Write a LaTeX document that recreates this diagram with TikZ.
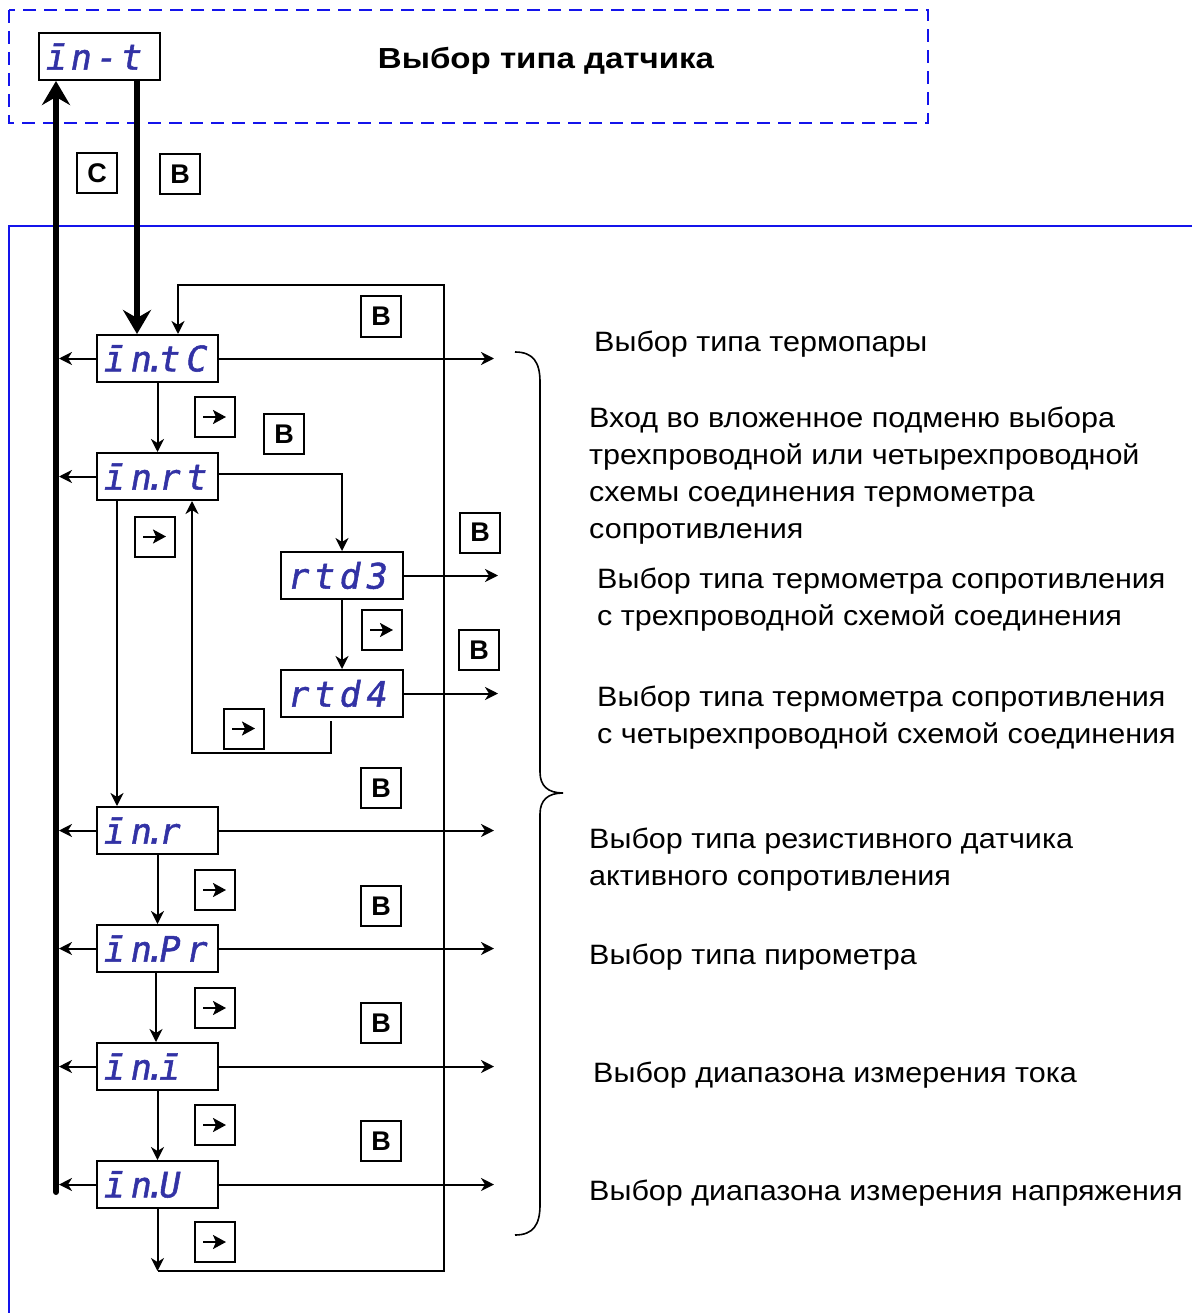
\documentclass[tikz,border=0pt]{standalone}
\usepackage{fontspec}
\setmainfont{Liberation Sans}
\newfontfamily\descfont{Liberation Sans}[FakeStretch=1.09]
\newfontfamily\titlefont{Liberation Sans}[FakeStretch=1.14]
\newfontfamily\segfont{DejaVu Sans Mono}[FakeSlant=0.18,FakeBold=1.5]
\newcommand\sgap{\kern6pt}
\newcommand\sdot{\kern-7pt.\kern-7pt}
\usetikzlibrary{arrows.meta,calc}
\definecolor{segblue}{RGB}{50,50,165}
\definecolor{frameblue}{RGB}{20,20,235}
\tikzset{
  conn/.style={line width=2pt,-{Stealth[length=13pt,width=13pt,inset=4pt]}},
  plain/.style={line width=2pt},
  thickarr/.style={line width=6pt,-{Stealth[length=24pt,width=28pt,inset=8pt]}},
  disp/.style={draw,line width=2pt,minimum height=47pt,text width=111pt,inner xsep=5pt,inner ysep=0pt,align=left,
    font=\segfont\fontsize{35}{35}\selectfont,text=segblue},
  btn/.style={draw,line width=2pt,minimum size=40pt,inner sep=0pt,font=\bfseries\fontsize{27}{27}\selectfont},
  arrbtn/.style={draw,line width=2pt,minimum size=40pt,inner sep=0pt,
    path picture={\draw[line width=2pt,-{Stealth[length=13pt,width=14pt,inset=3pt]}]
      ($(path picture bounding box.center)+(-12,0)$) -- ($(path picture bounding box.center)+(11,0)$);}},
  desc/.style={anchor=west,align=left,inner sep=0pt,font=\descfont\fontsize{28}{37}\selectfont}
}
\begin{document}
\begin{tikzpicture}[x=1pt,y=-1pt]
\useasboundingbox (0,0) rectangle (1192,1313);
% frames
\draw[frameblue,line width=2pt,dash pattern=on 13pt off 8pt] (9,10) rectangle (928,123);
\draw[frameblue,line width=1.5pt] (1192,226) -- (9,226) -- (9,1313);
% title
\node (title) at (546,61) {\titlefont\bfseries\fontsize{29}{29}\selectfont Выбор типа датчика};
% displays
\node[disp] (tp) at (99.5,56.5) {ī\kern4pt n\kern4pt -\kern4pt t};
\node[disp] (intc) at (157.5,358.5) {ī\sgap n\sdot t\sgap C};
\node[disp] (inrt) at (157.5,476.5) {ī\sgap n\sdot r\sgap t};
\node[disp,text width=112pt] (rtd3) at (342,575.5) {r\kern5pt t\kern5pt d\kern5pt 3};
\node[disp,text width=112pt] (rtd4) at (342,693.5) {r\kern5pt t\kern5pt d\kern5pt 4};
\node[disp] (inr) at (157.5,830.5) {ī\sgap n\sdot r};
\node[disp] (inpr) at (157.5,948.5) {ī\sgap n\sdot P\sgap r};
\node[disp] (ini) at (157.5,1066.5) {ī\sgap n\sdot ī};
\node[disp] (inu) at (157.5,1184.5) {ī\sgap n\sdot U};
% key coordinates
\coordinate (cbot) at (56,1192);
\coordinate (bx) at (137,0);
\coordinate (lx) at (59,0);
\coordinate (rx) at (494,0);
\coordinate (rx2) at (498,0);
\coordinate (loopTL) at (178,285);
\coordinate (loopTR) at (444,285);
\coordinate (loopBR) at (444,1271);
\coordinate (loopBL) at (157.5,1271);
% thick lines
\draw[thickarr,line cap=round] (cbot) -- (cbot |- tp.south);
\draw[thickarr] (tp.south -| bx) -- (intc.north -| bx);
% buttons near top
\node[btn] (bc) at (97,173.5) {C};
\node[btn] (bb) at (180,174.5) {B};
% left arrows
\foreach \n in {intc,inrt,inr,inpr,ini,inu}{
  \draw[conn] (\n.west) -- (\n.west -| lx);
}
% right arrows
\foreach \n in {intc,inr,inpr,ini,inu}{
  \draw[conn] (\n.east) -- (\n.east -| rx);
}
\draw[conn] (rtd3.east) -- (rtd3.east -| rx2);
\draw[conn] (rtd4.east) -- (rtd4.east -| rx2);
% loop back
\draw[conn] (inu.south) -- (loopBL);
\draw[conn] (loopBL) -- (loopBR) -- (loopTR) -- (loopTL) -- (intc.north -| loopTL);
% vertical flow
\draw[conn] (intc.south) -- (inrt.north);
\draw[conn] ($(inrt.east)+(0,-3)$) -- ($(inrt.east -| rtd3.north)+(0,-3)$) -- (rtd3.north);
\draw[conn] (rtd3.south) -- (rtd4.north);
\draw[conn] ($(rtd4.south)+(-11,3)$) -- ++(0,32) -| ($(inrt.south)+(34.5,0)$);
\draw[conn] ($(inrt.south west)+(21,0)$) -- ($(inr.north west)+(21,0)$);
\draw[conn] (inr.south) -- (inpr.north);
\draw[conn] ($(inpr.south)+(-1.5,0)$) -- ($(ini.north)+(-1.5,0)$);
\draw[conn] (ini.south) -- (inu.north);
% B buttons
\node[btn] (b1) at (381,316.5) {B};
\node[btn] (b2) at (284,434) {B};
\node[btn] (b3) at (480,532.5) {B};
\node[btn] (b4) at (479,650) {B};
\node[btn] (b5) at (381,788) {B};
\node[btn] (b6) at (381,906) {B};
\node[btn] (b7) at (381,1023) {B};
\node[btn] (b8) at (381,1141) {B};
% arrow buttons
\node[arrbtn] (a1) at (215,417) {};
\node[arrbtn] (a2) at (155,536.5) {};
\node[arrbtn] (a3) at (382,630) {};
\node[arrbtn] (a4) at (244,728.5) {};
\node[arrbtn] (a5) at (215,890) {};
\node[arrbtn] (a6) at (215,1008) {};
\node[arrbtn] (a7) at (215,1125) {};
\node[arrbtn] (a8) at (215,1242) {};
% brace
\draw[line width=1.6pt] (515,352) .. controls (533,352) and (540,362) .. (540,382)
  -- (540,772) .. controls (540,786) and (548,793) .. (563,793)
  .. controls (548,793) and (540,800) .. (540,814)
  -- (540,1205) .. controls (540,1225) and (533,1235) .. (515,1235);
% descriptions
\node[desc] (d1) at (594,344) {Выбор типа термопары};
\node[desc] (d2) at (589,475.5) {Вход во вложенное подменю выбора\\трехпроводной или четырехпроводной\\схемы соединения термометра\\сопротивления};
\node[desc] (d3) at (597,599.5) {Выбор типа термометра сопротивления\\с трехпроводной схемой соединения};
\node[desc] (d4) at (597,717.5) {Выбор типа термометра сопротивления\\с четырехпроводной схемой соединения};
\node[desc] (d5) at (589,859.5) {Выбор типа резистивного датчика\\активного сопротивления};
\node[desc] (d6) at (589,957) {Выбор типа пирометра};
\node[desc] (d7) at (593,1075) {Выбор диапазона измерения тока};
\node[desc] (d8) at (589,1193) {Выбор диапазона измерения напряжения};
\end{tikzpicture}
\end{document}
